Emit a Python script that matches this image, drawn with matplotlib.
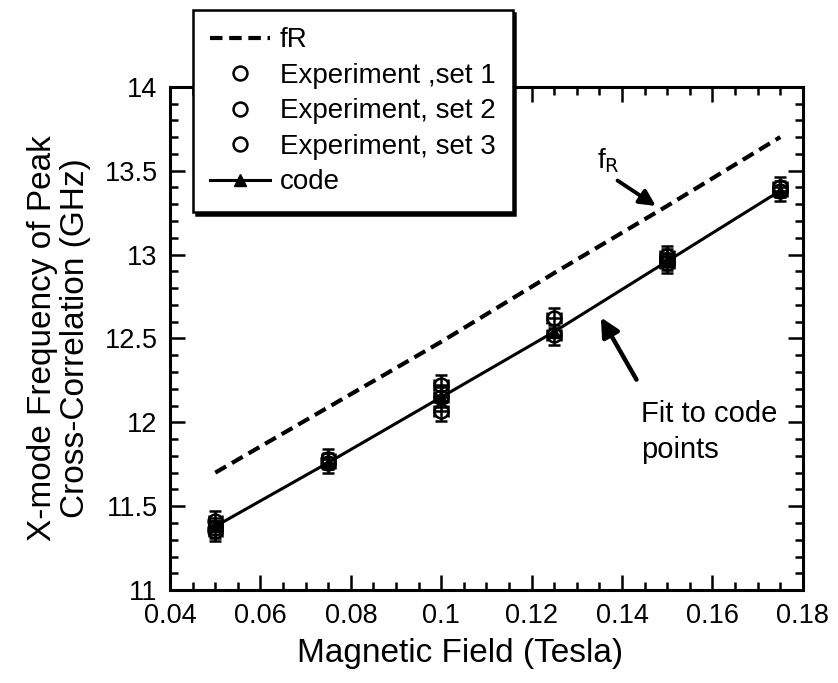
import matplotlib
matplotlib.use("Agg")
import matplotlib.pyplot as plt
from matplotlib.ticker import MultipleLocator

plt.rcParams['font.family'] = ['Liberation Sans', 'DejaVu Sans']

field = [0.05, 0.075, 0.1, 0.125, 0.15, 0.175]
fR = [11.70, 12.09, 12.48, 12.89, 13.29, 13.70]
code = [11.38, 11.76, 12.15, 12.54, 12.96, 13.38]

exp1_x = [0.05, 0.075, 0.1, 0.125, 0.15, 0.175]
exp1_y = [11.35, 11.76, 12.22, 12.62, 12.97, 13.38]
exp2_x = [0.05, 0.075, 0.1, 0.125, 0.15, 0.175]
exp2_y = [11.37, 11.78, 12.07, 12.52, 12.95, 13.40]
exp3_x = [0.05, 0.1, 0.15]
exp3_y = [11.41, 12.15, 12.99]
yerr = 0.06
xerr = 0.0015

xticks = [0.04, 0.06, 0.08, 0.1, 0.12, 0.14, 0.16, 0.18]
xticklabels = ['0.04', '0.06', '0.08', '0.1', '0.12', '0.14', '0.16', '0.18']
yticks = [11, 11.5, 12, 12.5, 13, 13.5, 14]
yticklabels = ['11', '11.5', '12', '12.5', '13', '13.5', '14']

fig = plt.figure(figsize=(8.38, 6.83), dpi=100)
ax = fig.add_axes([0.203, 0.136, 0.755, 0.737])

lfr, = ax.plot(field, fR, color='black', lw=3, ls=(0, (3, 1.6)), label='fR')
handles = [lfr]
for xs, ys, lab in [(exp1_x, exp1_y, 'Experiment ,set 1'),
                    (exp2_x, exp2_y, 'Experiment, set 2'),
                    (exp3_x, exp3_y, 'Experiment, set 3')]:
    ax.errorbar(xs, ys, yerr=yerr, xerr=xerr, fmt='none', ecolor='black',
                elinewidth=1.8, capsize=4, capthick=1.8, zorder=3)
    h, = ax.plot(xs, ys, 'o', mfc='none', mec='black', mew=1.8, ms=10,
                 label=lab, zorder=4)
    handles.append(h)

lc, = ax.plot(field, code, color='black', lw=2.2, marker='^', ms=9,
              mfc='black', mec='black', label='code', zorder=6)
handles.append(lc)

ax.set_xlim(0.04, 0.18)
ax.set_ylim(11, 14)
ax.set_xticks(xticks)
ax.set_xticklabels(xticklabels)
ax.set_yticks(yticks)
ax.set_yticklabels(yticklabels)
ax.xaxis.set_minor_locator(MultipleLocator(0.005))
ax.yaxis.set_minor_locator(MultipleLocator(0.1))
ax.tick_params(which='both', direction='in', top=True, right=True, labelsize=19.5, width=1.8)
ax.tick_params(which='major', length=11, pad=9)
ax.tick_params(which='minor', length=6)
for s in ax.spines.values():
    s.set_linewidth(2.2)

ax.set_xlabel('Magnetic Field (Tesla)', fontsize=24)
ax.xaxis.set_label_coords(0.458, -0.095)
ax.set_ylabel('X-mode Frequency of Peak\nCross-Correlation (GHz)', fontsize=24,
              linespacing=1.1)
ax.yaxis.set_label_coords(-0.125, 0.5)

ax.annotate('', xy=(0.148, 13.28), xytext=(0.1385, 13.45),
            arrowprops=dict(arrowstyle='-|>', color='black', lw=2.8, mutation_scale=24))
ax.text(0.1345, 13.56, r'f$_{\rm R}$', fontsize=20, va='center')
ax.annotate('', xy=(0.135, 12.64), xytext=(0.1435, 12.24),
            arrowprops=dict(arrowstyle='-|>', color='black', lw=3.2, mutation_scale=28))
ax.text(0.1442, 12.0, 'Fit to code', fontsize=21, va='baseline')
ax.text(0.1442, 11.79, 'points', fontsize=21, va='baseline')

leg = fig.legend(handles=handles, loc='upper left', bbox_to_anchor=(0.230, 0.985),
                 fontsize=20, frameon=True, fancybox=False,
                 shadow={'color': 'black', 'alpha': 1},
                 handlelength=2.15, handletextpad=0.36, borderpad=0.62, labelspacing=0.34,
                 borderaxespad=0)
leg.get_frame().set_edgecolor('black')
leg.get_frame().set_linewidth(1.8)
leg.get_frame().set_alpha(1)

fig.savefig('out.png', dpi=100)
